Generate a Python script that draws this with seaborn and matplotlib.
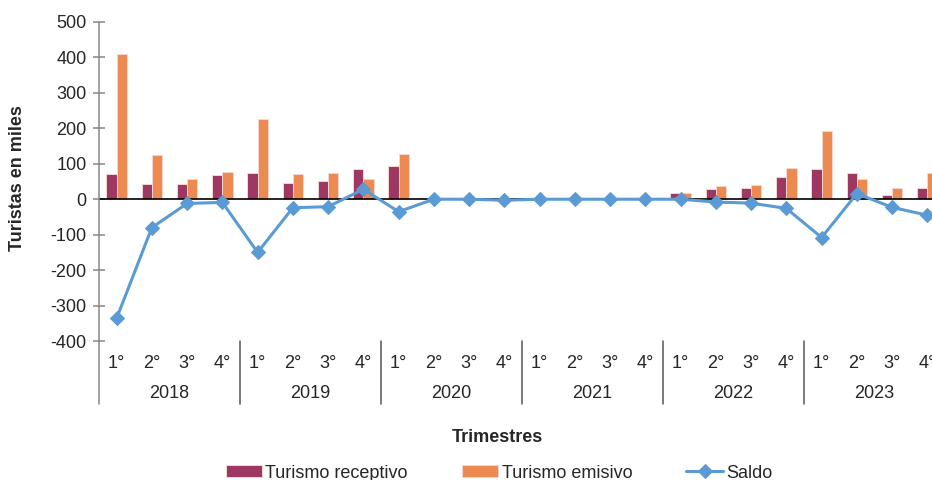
import matplotlib
matplotlib.use("Agg")
import matplotlib.pyplot as plt
import pandas as pd
import seaborn as sns

sns.set_style("white")
plt.rcParams['font.family'] = ['Liberation Sans', 'DejaVu Sans']
plt.rcParams['axes.unicode_minus'] = False

years = ["2018", "2019", "2020", "2021", "2022", "2023"]
quarters = ["1°", "2°", "3°", "4°"]

receptivo = [72, 43, 43, 69,
             74, 46, 52, 85,
             93, 0, 0, 0,
             0, 0, 0, 0,
             18, 30, 31, 62,
             85, 75, 11, 32]
emisivo = [409, 125, 56, 78,
           225, 70, 74, 57,
           128, 0, 0, 2,
           0, 0, 0, 0,
           18, 38, 41, 87,
           192, 58, 33, 75]
saldo = [-336, -80, -12, -9,
         -150, -24, -21, 28,
         -35, 0, 0, -3,
         0, 0, 0, 0,
         0, -8, -11, -26,
         -108, 16, -23, -45]

C_REC = "#9E3762"
C_EMI = "#EC8A52"
C_SAL = "#5B9BD5"
FS = 13

n = len(receptivo)
idx = list(range(n))
df = pd.DataFrame({
    "trim": idx * 2,
    "valor": receptivo + emisivo,
    "serie": ["Turismo receptivo"] * n + ["Turismo emisivo"] * n,
})

fig = plt.figure(figsize=(9.32, 4.8), dpi=100)
W, H = 932, 480
x0, x1, y_top, y_bot = 99, 99 + 35.25 * n, 22, 341
ax = fig.add_axes([x0 / W, 1 - y_bot / H, (x1 - x0) / W, (y_bot - y_top) / H])

sns.barplot(data=df, x="trim", y="valor", hue="serie",
            hue_order=["Turismo receptivo", "Turismo emisivo"],
            palette=[C_REC, C_EMI], width=0.58, ax=ax,
            edgecolor="#f6d6cf", linewidth=0.7, saturation=1)
sns.lineplot(x=idx, y=saldo, color=C_SAL, marker="D", markersize=7.5,
             markeredgecolor=C_SAL, linewidth=2.2, label="Saldo", ax=ax)

ax.set_xlim(-0.5, n - 0.5)
ax.set_ylim(-400, 500)
ax.set_yticks(range(-400, 501, 100))
ax.tick_params(axis="y", direction="inout", length=8, width=1.1,
               color="#868686", labelsize=FS, pad=5, left=True)
ax.set_xticks([])
ax.set_xlabel("")
ax.set_ylabel("")
for s in ["top", "right", "bottom"]:
    ax.spines[s].set_visible(False)
ax.spines["left"].set_color("#868686")
ax.spines["left"].set_linewidth(1.1)
ax.axhline(0, color="black", linewidth=1.2, zorder=1)

# category axis below
trans = ax.get_xaxis_transform()
sep_bottom = -(404 - y_bot) / (y_bot - y_top)
for k in range(len(years) + 1):
    ax.plot([k * 4 - 0.5] * 2, [0, sep_bottom], transform=trans,
            color="#555555" if k else "#868686", linewidth=1.1, clip_on=False)
q_y = -(363 - y_bot) / (y_bot - y_top)
yr_y = -(394 - y_bot) / (y_bot - y_top)
for i in idx:
    ax.text(i, q_y, quarters[i % 4], transform=trans, ha="center",
            va="center", fontsize=FS)
for k, yr in enumerate(years):
    ax.text(k * 4 + 1.5, yr_y, yr, transform=trans, ha="center",
            va="center", fontsize=FS)

fig.text(497 / W, 1 - 437 / H, "Trimestres", ha="center", va="center",
         fontsize=FS, fontweight="bold")
fig.text(18 / W, 1 - 178 / H, "Turistas en miles", ha="center", va="center",
         rotation=90, fontsize=FS, fontweight="bold")

handles, labels = ax.get_legend_handles_labels()
ax.get_legend().remove()
fig.legend(handles, labels, loc="center", bbox_to_anchor=(499 / W, 1 - 473 / H),
           ncol=3, frameon=False, fontsize=FS, handlelength=2.0,
           handleheight=0.6, columnspacing=3.0, handletextpad=0.2)

fig.savefig("out.png", dpi=100)
